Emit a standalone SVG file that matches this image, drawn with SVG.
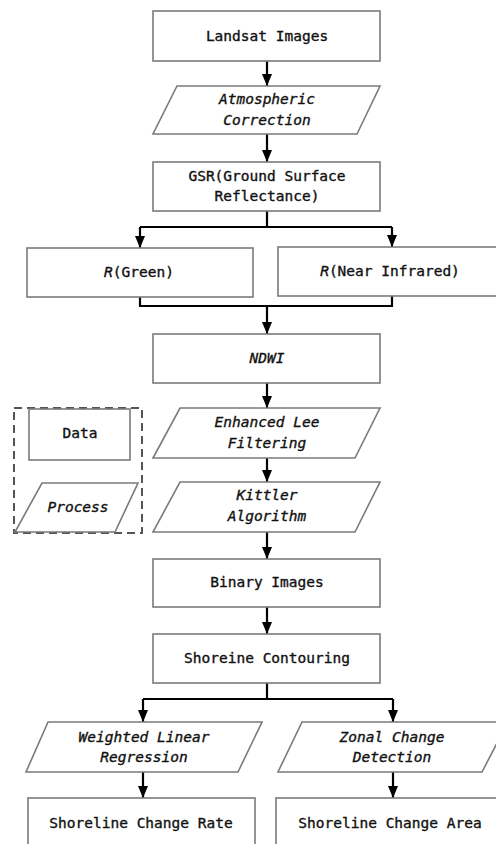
<svg xmlns="http://www.w3.org/2000/svg" width="496" height="844" viewBox="0 0 496 844">
<style>
.box{fill:#fff;stroke:#7a7a7a;stroke-width:1.6}
.leg{fill:none;stroke:#555;stroke-width:2;stroke-dasharray:8,5}
.t{font-family:"DejaVu Sans Mono","Liberation Mono",monospace;font-size:14.5px;fill:#111;stroke:#111;stroke-width:0.35;text-anchor:middle}
.i{font-style:italic}
.c{fill:none;stroke:#000;stroke-width:2.2}
</style>
<defs>
<marker id="ah" markerUnits="userSpaceOnUse" viewBox="0 0 12 10" refX="12" refY="5" markerWidth="12" markerHeight="10" orient="auto">
<path d="M0,0 L12,5 L0,10 z" fill="#000"/>
</marker>
</defs>
<rect width="496" height="844" fill="#fff"/>
<g id="connectors">
<line class="c" x1="267" y1="61" x2="267" y2="86" marker-end="url(#ah)"/>
<line class="c" x1="267" y1="134" x2="267" y2="162" marker-end="url(#ah)"/>
<polyline class="c" points="267,211 267,227"/>
<polyline class="c" points="140,227 392,227"/>
<line class="c" x1="140" y1="227" x2="140" y2="248" marker-end="url(#ah)"/>
<line class="c" x1="392" y1="227" x2="392" y2="247" marker-end="url(#ah)"/>
<polyline class="c" points="140,297 140,306 392,306 392,296"/>
<line class="c" x1="267" y1="306" x2="267" y2="334" marker-end="url(#ah)"/>
<line class="c" x1="267" y1="383" x2="267" y2="408" marker-end="url(#ah)"/>
<line class="c" x1="267" y1="458" x2="267" y2="482" marker-end="url(#ah)"/>
<line class="c" x1="267" y1="532" x2="267" y2="559" marker-end="url(#ah)"/>
<line class="c" x1="267" y1="607" x2="267" y2="634" marker-end="url(#ah)"/>
<polyline class="c" points="267,683 267,699"/>
<polyline class="c" points="143,699 393,699"/>
<line class="c" x1="143" y1="699" x2="143" y2="722" marker-end="url(#ah)"/>
<line class="c" x1="393" y1="699" x2="393" y2="722" marker-end="url(#ah)"/>
<line class="c" x1="143" y1="772" x2="143" y2="798" marker-end="url(#ah)"/>
<line class="c" x1="393" y1="772" x2="393" y2="798" marker-end="url(#ah)"/>
</g>
<g id="landsat">
<rect class="box" x="153" y="11" width="227" height="50"/>
<text class="t" x="267" y="41">Landsat Images</text>
</g>
<g id="atmospheric">
<polygon class="box" points="177,86 380,86 357,134 153,134"/>
<text class="t i" x="267" y="104">Atmospheric</text>
<text class="t i" x="267" y="125">Correction</text>
</g>
<g id="gsr">
<rect class="box" x="153" y="162" width="227" height="49"/>
<text class="t" x="267" y="181">GSR(Ground Surface</text>
<text class="t" x="267" y="201">Reflectance)</text>
</g>
<g id="green">
<rect class="box" x="27" y="248" width="226" height="49"/>
<text class="t" x="139" y="277"><tspan class="i">R</tspan>(Green)</text>
</g>
<g id="nir">
<rect class="box" x="278" y="247" width="230" height="49"/>
<text class="t" x="390" y="276"><tspan class="i">R</tspan>(Near Infrared)</text>
</g>
<g id="ndwi">
<rect class="box" x="153" y="334" width="227" height="49"/>
<text class="t i" x="267" y="363">NDWI</text>
</g>
<g id="lee">
<polygon class="box" points="180,408 380,408 355,458 153,458"/>
<text class="t i" x="267" y="427">Enhanced Lee</text>
<text class="t i" x="267" y="448">Filtering</text>
</g>
<g id="kittler">
<polygon class="box" points="180,482 380,482 355,532 153,532"/>
<text class="t i" x="267" y="500">Kittler</text>
<text class="t i" x="267" y="521">Algorithm</text>
</g>
<g id="binary">
<rect class="box" x="153" y="559" width="227" height="48"/>
<text class="t" x="267" y="587">Binary Images</text>
</g>
<g id="contouring">
<rect class="box" x="153" y="634" width="227" height="49"/>
<text class="t" x="267" y="663">Shoreine Contouring</text>
</g>
<g id="wlr">
<polygon class="box" points="48,722 262,722 238,772 26,772"/>
<text class="t i" x="144" y="742">Weighted Linear</text>
<text class="t i" x="144" y="762">Regression</text>
</g>
<g id="zcd">
<polygon class="box" points="302,722 508,722 482,772 278,772"/>
<text class="t i" x="392" y="742">Zonal Change</text>
<text class="t i" x="392" y="762">Detection</text>
</g>
<g id="rate">
<rect class="box" x="28" y="798" width="227" height="50"/>
<text class="t" x="141" y="828">Shoreline Change Rate</text>
</g>
<g id="area">
<rect class="box" x="276" y="798" width="232" height="50"/>
<text class="t" x="390" y="828">Shoreline Change Area</text>
</g>
<g id="legend">
<rect class="leg" x="14" y="408" width="128" height="125"/>
<g id="legend-data">
<rect class="box" x="29" y="409" width="101" height="51"/>
<text class="t" x="80" y="438">Data</text>
</g>
<g id="legend-process">
<polygon class="box" points="42,483 138,483 115,532 15,532"/>
<text class="t i" x="78" y="512">Process</text>
</g>
</g>
</svg>
